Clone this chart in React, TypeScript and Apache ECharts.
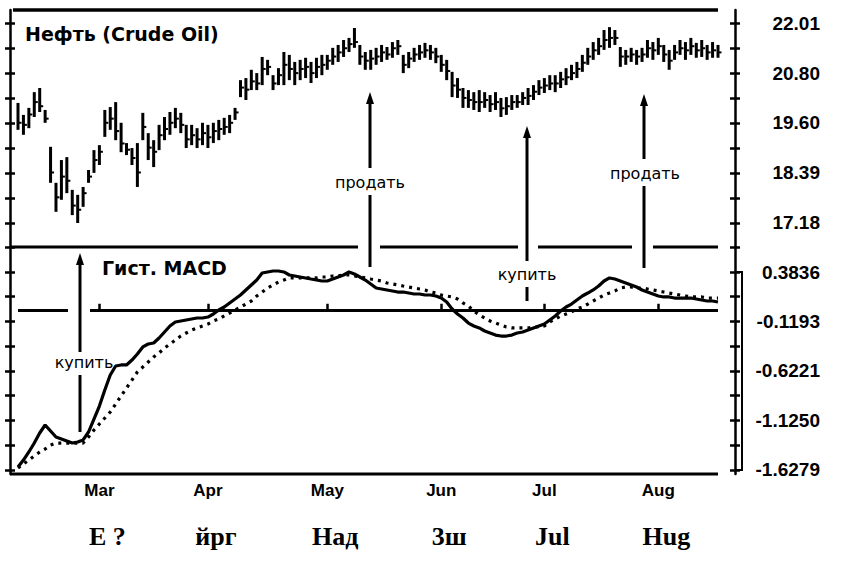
import React, { useEffect, useRef } from "react";
import * as echarts from "echarts";

// ---- data ----
const monthNames = ["Mar", "Apr", "May", "Jun", "Jul", "Aug"];
const monthStarts = [15, 35, 57, 78, 97, 118];
const bottomLabels = ["Е ?", "йрг", "Над", "3ш", "Jul", "Hug"];

const priceHigh = [
  20.08, 19.79, 19.96, 20.34, 20.44, 19.91, 19.02, 18.15, 18.7, 18.77,
  17.98, 17.86, 18.05, 18.46, 18.94, 19.06, 19.91, 19.98, 20.1, 19.6,
  19.11, 18.99, 19.11, 19.84, 19.35, 19.18, 19.55, 19.74, 19.86, 19.96,
  19.84, 19.55, 19.55, 19.47, 19.6, 19.55, 19.6, 19.67, 19.72, 19.79,
  19.96, 20.63, 20.68, 20.88, 20.8, 21.19, 21.12, 20.75, 20.92, 21.31,
  21.24, 21.07, 21.12, 21.17, 21.07, 21.17, 21.24, 21.24, 21.41, 21.48,
  21.6, 21.65, 21.89, 21.48, 21.31, 21.36, 21.41, 21.48, 21.43, 21.55,
  21.6, 21.24, 21.31, 21.41, 21.48, 21.53, 21.48, 21.41, 21.24, 21.12,
  20.83, 20.68, 20.44, 20.39, 20.34, 20.39, 20.34, 20.27, 20.34, 20.2,
  20.22, 20.27, 20.27, 20.34, 20.44, 20.51, 20.63, 20.68, 20.75, 20.75,
  20.83, 20.92, 21.0, 21.07, 21.24, 21.41, 21.55, 21.65, 21.84, 21.91,
  21.84, 21.43, 21.36, 21.41, 21.36, 21.41, 21.6, 21.55, 21.65, 21.48,
  21.36, 21.48, 21.6, 21.55, 21.65, 21.53, 21.6, 21.48, 21.55, 21.48,
];
const priceLow = [
  19.43, 19.31, 19.47, 19.74, 19.86, 19.6, 18.15, 17.45, 17.74, 17.9,
  17.37, 17.18, 17.57, 18.15, 18.39, 18.58, 19.26, 19.43, 19.18, 18.89,
  18.82, 18.58, 18.05, 19.18, 18.7, 18.53, 18.94, 19.18, 19.31, 19.47,
  19.35, 18.99, 19.06, 18.99, 19.06, 18.99, 19.11, 19.18, 19.31, 19.35,
  19.67, 20.22, 20.15, 20.39, 20.39, 20.51, 20.75, 20.39, 20.51, 20.51,
  20.63, 20.51, 20.63, 20.68, 20.56, 20.68, 20.75, 20.88, 21.0, 21.07,
  21.19, 21.31, 21.41, 21.0, 20.88, 20.88, 21.0, 21.07, 21.12, 21.17,
  21.24, 20.8, 20.92, 21.07, 21.12, 21.17, 21.12, 21.04, 20.83, 20.63,
  20.22, 20.2, 19.96, 19.96, 19.91, 19.86, 19.96, 19.86, 19.91, 19.74,
  19.79, 19.91, 19.96, 20.03, 20.03, 20.15, 20.27, 20.32, 20.39, 20.34,
  20.44, 20.51, 20.63, 20.68, 20.83, 21.0, 21.12, 21.24, 21.36, 21.41,
  21.48, 20.95, 21.0, 21.07, 21.0, 21.07, 21.17, 21.12, 21.24, 21.07,
  20.88, 21.12, 21.24, 21.12, 21.24, 21.17, 21.19, 21.12, 21.17, 21.17,
];
const priceClose = [
  19.6, 19.55, 19.8, 20.1, 20.0, 19.7, 18.4, 17.8, 18.3, 18.2,
  17.6, 17.5, 17.9, 18.3, 18.7, 18.9, 19.6, 19.7, 19.4, 19.1,
  18.95, 18.75, 18.4, 19.5, 19.0, 18.9, 19.3, 19.45, 19.6, 19.7,
  19.55, 19.2, 19.3, 19.2, 19.35, 19.25, 19.4, 19.45, 19.5, 19.6,
  19.85, 20.45, 20.4, 20.6, 20.55, 20.9, 20.95, 20.55, 20.75, 21.0,
  20.9, 20.8, 20.9, 20.95, 20.8, 20.95, 21.0, 21.1, 21.2, 21.3,
  21.4, 21.5, 21.55, 21.2, 21.1, 21.15, 21.2, 21.3, 21.25, 21.4,
  21.45, 21.0, 21.15, 21.25, 21.3, 21.35, 21.3, 21.2, 21.0, 20.85,
  20.5, 20.4, 20.2, 20.15, 20.1, 20.1, 20.15, 20.05, 20.1, 19.95,
  20.0, 20.1, 20.1, 20.2, 20.25, 20.35, 20.45, 20.5, 20.55, 20.55,
  20.65, 20.7, 20.8, 20.9, 21.05, 21.2, 21.35, 21.45, 21.6, 21.65,
  21.65, 21.2, 21.2, 21.25, 21.2, 21.25, 21.4, 21.35, 21.45, 21.25,
  21.1, 21.3, 21.4, 21.35, 21.45, 21.35, 21.4, 21.3, 21.35, 21.3,
];
const macdLine = [
  -1.598, -1.527, -1.445, -1.354, -1.252, -1.171, -1.232, -1.293, -1.313, -1.333,
  -1.354, -1.344, -1.323, -1.242, -1.11, -0.978, -0.815, -0.663, -0.571, -0.561,
  -0.561, -0.511, -0.45, -0.378, -0.348, -0.338, -0.287, -0.226, -0.165, -0.124,
  -0.114, -0.104, -0.094, -0.084, -0.084, -0.074, -0.043, -0.002, 0.028, 0.069,
  0.109, 0.15, 0.201, 0.252, 0.302, 0.373, 0.384, 0.394, 0.394, 0.384,
  0.353, 0.343, 0.333, 0.323, 0.312, 0.302, 0.292, 0.292, 0.312, 0.333,
  0.353, 0.384, 0.363, 0.333, 0.302, 0.262, 0.221, 0.211, 0.201, 0.191,
  0.18, 0.18, 0.17, 0.16, 0.16, 0.15, 0.15, 0.14, 0.119, 0.079,
  0.008, -0.043, -0.084, -0.135, -0.165, -0.185, -0.216, -0.236, -0.257, -0.267,
  -0.267, -0.257, -0.236, -0.226, -0.206, -0.185, -0.165, -0.145, -0.104, -0.063,
  -0.013, 0.028, 0.058, 0.099, 0.14, 0.17, 0.201, 0.241, 0.292, 0.323,
  0.312, 0.292, 0.272, 0.252, 0.231, 0.201, 0.18, 0.16, 0.14, 0.13,
  0.13, 0.119, 0.119, 0.119, 0.119, 0.109, 0.099, 0.089, 0.089, 0.079,
];
const signalLine = [
  -1.608, -1.567, -1.527, -1.486, -1.445, -1.415, -1.374, -1.354, -1.354, -1.354,
  -1.354, -1.354, -1.354, -1.293, -1.222, -1.161, -1.1, -1.039, -0.958, -0.876,
  -0.795, -0.714, -0.632, -0.582, -0.531, -0.48, -0.439, -0.389, -0.348, -0.307,
  -0.267, -0.236, -0.206, -0.185, -0.165, -0.145, -0.114, -0.094, -0.063, -0.033,
  -0.002, 0.028, 0.058, 0.089, 0.14, 0.18, 0.221, 0.252, 0.282, 0.302,
  0.323, 0.323, 0.323, 0.323, 0.323, 0.323, 0.333, 0.333, 0.343, 0.343,
  0.353, 0.353, 0.343, 0.333, 0.323, 0.312, 0.302, 0.292, 0.272, 0.262,
  0.252, 0.241, 0.231, 0.221, 0.211, 0.201, 0.18, 0.17, 0.15, 0.14,
  0.13, 0.109, 0.069, 0.038, -0.013, -0.053, -0.084, -0.114, -0.135, -0.155,
  -0.175, -0.185, -0.185, -0.185, -0.185, -0.175, -0.175, -0.165, -0.124, -0.094,
  -0.063, -0.043, -0.023, 0.008, 0.028, 0.058, 0.089, 0.119, 0.15, 0.17,
  0.191, 0.221, 0.231, 0.231, 0.221, 0.221, 0.211, 0.201, 0.191, 0.18,
  0.17, 0.16, 0.15, 0.14, 0.13, 0.13, 0.13, 0.119, 0.119, 0.119,
];
const priceLabelValues = [17.18, 18.39, 19.6, 20.8, 22.01];
const priceTickValues = [17.18, 17.785, 18.39, 18.995, 19.6, 20.2, 20.8, 21.405, 22.01];
const macdLabelValues = [-1.6279, -1.125, -0.6221, -0.1193, 0.3836];
const macdTickValues = [-1.6279, -1.37645, -1.125, -0.87355, -0.6221, -0.3707, -0.1193, 0.13215, 0.3836, 0.635];

const PRICE_MIN = 16.6;
const PRICE_MAX = 22.324;
const MACD_MIN = -1.6687;
const MACD_MAX = 0.6376;

// ---- styling / layout ----
const LABEL_FONT = '"Liberation Sans","Arial",sans-serif';
const SANS = '"DejaVu Sans","Liberation Sans",sans-serif';
const SERIF = '"Liberation Serif","DejaVu Serif",serif';

const isMonth = (index: number) => monthStarts.includes(index);

function makeY(
  gridIndex: number,
  min: number,
  max: number,
  position: "left" | "right",
  offset: number,
  inside: boolean,
  showLine: boolean,
  ticks: number[],
  labels?: number[],
  digits?: number
) {
  return {
    type: "value",
    gridIndex,
    min,
    max,
    position,
    offset,
    splitLine: { show: false },
    axisLine: { show: showLine, onZero: false, lineStyle: { color: "#000", width: 2.5 } },
    axisTick: {
      show: true,
      inside,
      length: 5,
      customValues: ticks,
      lineStyle: { color: "#000", width: 2.5 },
    },
    axisLabel: labels
      ? {
          show: true,
          customValues: labels,
          formatter: (v: number) => v.toFixed(digits),
          align: "right",
          margin: 85,
          fontFamily: LABEL_FONT,
          fontWeight: "bold",
          fontSize: 19,
          color: "#000",
          padding: [0, 0, 6, 0],
        }
      : { show: false },
  };
}

const L = (x1: number, y1: number, x2: number, y2: number, w = 3) => ({
  type: "line",
  z: 100,
  shape: { x1, y1, x2, y2 },
  style: { stroke: "#000", lineWidth: w },
});
const head = (x: number, y: number) => ({
  type: "polygon",
  z: 100,
  shape: { points: [[x, y], [x - 4, y + 12], [x + 4, y + 12]] },
  style: { fill: "#000" },
});
const T = (text: string, x: number, y: number, size: number, weight: string, align = "center") => ({
  type: "text",
  z: 100,
  x,
  y,
  style: {
    text,
    fontSize: size,
    fontWeight: weight,
    fontFamily: SANS,
    fill: "#000",
    align,
    verticalAlign: "middle",
  },
});

export default function App() {
  const ref = useRef<HTMLDivElement>(null);

  useEffect(() => {
    if (!ref.current) return;
    const chart = echarts.init(ref.current, null, { renderer: "svg" });
    const days = priceHigh.map((_, i) => String(i));
    const bars = priceHigh.map((h, i) => [i, h, priceLow[i], priceClose[i]]);

    const option: any = {
      animation: false,
      backgroundColor: "#fff",
      grid: [
        { left: 18, right: 125, top: 10, height: 237 },
        { left: 18, right: 125, top: 247, height: 227 },
      ],
      xAxis: [
        { type: "category", gridIndex: 0, data: days, boundaryGap: false, show: false },
        {
          type: "category",
          gridIndex: 1,
          position: "bottom",
          data: days,
          boundaryGap: false,
          axisLine: { show: false },
          axisTick: { show: true, inside: true, length: 6, interval: isMonth, lineStyle: { color: "#000", width: 2.5 } },
          axisLabel: {
            interval: isMonth,
            formatter: (v: string) => monthNames[monthStarts.indexOf(Number(v))] ?? "",
            fontFamily: LABEL_FONT,
            fontWeight: "bold",
            fontSize: 17,
            color: "#000",
            margin: 8,
          },
        },
        {
          type: "category",
          gridIndex: 1,
          position: "bottom",
          data: days,
          boundaryGap: false,
          offset: 41,
          axisLine: { show: false },
          axisTick: { show: false },
          axisLabel: {
            interval: isMonth,
            formatter: (v: string) => bottomLabels[monthStarts.indexOf(Number(v))] ?? "",
            fontFamily: SERIF,
            fontWeight: "bold",
            fontSize: 26,
            color: "#000",
            padding: [0, 0, 0, 16],
          },
        },
      ],
      yAxis: [
        makeY(0, PRICE_MIN, PRICE_MAX, "right", 17, false, true, priceTickValues, priceLabelValues, 2),
        makeY(0, PRICE_MIN, PRICE_MAX, "right", 17, true, false, priceTickValues),
        makeY(0, PRICE_MIN, PRICE_MAX, "left", 8, false, true, priceTickValues),
        makeY(0, PRICE_MIN, PRICE_MAX, "left", 8, true, false, priceTickValues),
        makeY(1, MACD_MIN, MACD_MAX, "right", 17, false, true, macdTickValues, macdLabelValues, 4),
        makeY(1, MACD_MIN, MACD_MAX, "right", 17, true, false, macdTickValues),
        makeY(1, MACD_MIN, MACD_MAX, "left", 8, false, true, macdTickValues),
        makeY(1, MACD_MIN, MACD_MAX, "left", 8, true, false, macdTickValues),
      ],
      series: [
        {
          type: "custom",
          name: "price",
          xAxisIndex: 0,
          yAxisIndex: 0,
          encode: { x: 0, y: [1, 2, 3] },
          data: bars,
          renderItem: (_p: any, api: any) => {
            const i = api.value(0);
            const pH = api.coord([i, api.value(1)]);
            const pL = api.coord([i, api.value(2)]);
            const pC = api.coord([i, api.value(3)]);
            return {
              type: "group",
              children: [
                { type: "line", shape: { x1: pH[0], y1: pH[1], x2: pL[0], y2: pL[1] }, style: { stroke: "#000", lineWidth: 3 } },
                { type: "line", shape: { x1: pC[0], y1: pC[1], x2: pC[0] + 3.5, y2: pC[1] }, style: { stroke: "#000", lineWidth: 2 } },
              ],
            };
          },
        },
        {
          type: "line",
          name: "MACD",
          xAxisIndex: 1,
          yAxisIndex: 4,
          data: macdLine,
          symbol: "none",
          lineStyle: { color: "#000", width: 3.2 },
          markLine: {
            silent: true,
            symbol: ["none", "none"],
            label: { show: false },
            lineStyle: { color: "#000", width: 3, type: "solid" },
            data: [{ yAxis: 0 }],
          },
        },
        {
          type: "line",
          name: "Signal",
          xAxisIndex: 1,
          yAxisIndex: 4,
          data: signalLine,
          symbol: "none",
          lineStyle: { color: "#000", width: 3.2, type: [3, 5] },
        },
      ],
      graphic: [
        // rules
        L(13, 10, 718, 10, 3.5),
        L(10, 247, 358, 247),
        L(380, 247, 518, 247),
        L(538, 247, 632, 247),
        L(653, 247, 718, 247),
        L(10, 474, 718, 474, 3),
        { type: "rect", z: 95, shape: { x: 68, y: 303, width: 22, height: 12 }, style: { fill: "#fff" } },
        { type: "polyline", z: 100, shape: { points: [[735, 272], [742, 272], [742, 470], [735, 470]] }, style: { stroke: "#000", lineWidth: 2, fill: null } },
        // arrow 1 (buy)
        head(80, 253), L(80, 262, 80, 352), L(80, 375, 80, 432),
        T("купить", 84, 362, 16, "normal"),
        // arrow 2 (sell)
        head(370, 92), L(370, 100, 370, 168), L(370, 195, 370, 267),
        T("продать", 370, 182, 16, "normal"),
        // arrow 3 (buy)
        head(527, 126), L(527, 134, 527, 261), L(527, 287, 527, 301),
        T("купить", 527, 274, 16, "normal"),
        // arrow 4 (sell)
        head(644, 94), L(644, 102, 644, 159), L(644, 186, 644, 268),
        T("продать", 645, 173, 16, "normal"),
        // titles
        T("Нефть (Crude Oil)", 25, 34, 19, "bold", "left"),
        T("Гист. MACD", 102, 268, 19, "bold", "left"),
      ],
    };

    chart.setOption(option);
    return () => chart.dispose();
  }, []);

  return (
    <div
      ref={ref}
      style={{ position: "absolute", left: 0, top: 0, width: 843, height: 561, background: "#fff" }}
    />
  );
}
